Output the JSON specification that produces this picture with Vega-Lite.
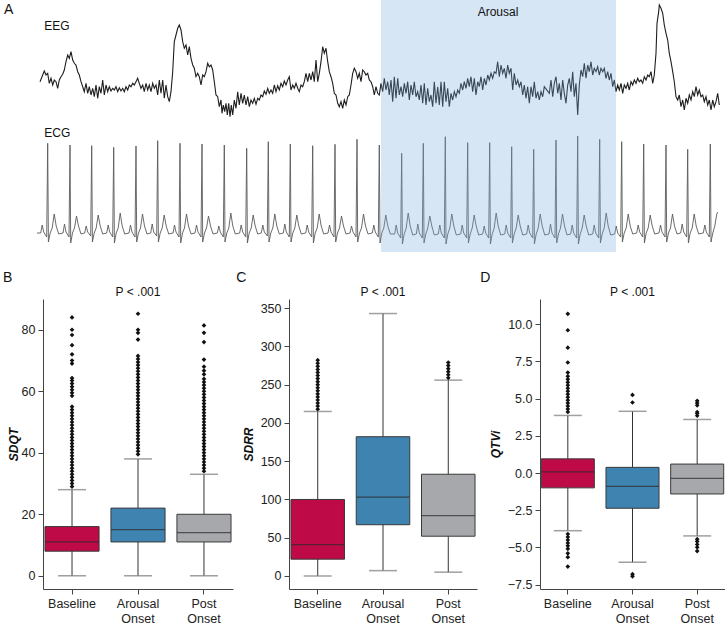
{
"$schema":"https://vega.github.io/schema/vega-lite/v6.json",
"padding":{"left":3,"top":0,"right":0,"bottom":0},
"config":{"view":{"stroke":null},"font":"Liberation Sans",
"axis":{"domainColor":"#444","tickColor":"#444","labelColor":"#222","labelFontSize":12.5,"tickSize":5,"labelPadding":3,"grid":false,"titleColor":"#111","labelFont":"Liberation Sans","titleFont":"Liberation Sans"},
"title":{"color":"#111","font":"Liberation Sans"}},
"datasets":{
"eeg":[
{"t":39.0,"amp":170.3},{"t":41.0,"amp":175.3},{"t":43.3,"amp":181.0},{"t":45.0,"amp":177.0},{"t":46.7,"amp":178.7},{"t":48.3,"amp":168.7},{"t":50.0,"amp":173.7},{"t":51.7,"amp":167.0},{"t":53.3,"amp":172.0},{"t":55.0,"amp":170.3},{"t":56.7,"amp":163.7},{"t":58.3,"amp":172.0},{"t":60.0,"amp":175.3},{"t":61.7,"amp":177.7},{"t":63.3,"amp":182.0},{"t":65.0,"amp":190.3},{"t":66.7,"amp":197.0},{"t":68.3,"amp":193.7},{"t":70.0,"amp":200.3},{"t":71.7,"amp":192.0},{"t":73.3,"amp":188.7},{"t":75.0,"amp":187.0},{"t":76.7,"amp":180.3},{"t":78.3,"amp":177.0},{"t":80.0,"amp":170.3},{"t":81.7,"amp":165.3},{"t":83.3,"amp":160.3},{"t":85.0,"amp":168.7},{"t":86.7,"amp":158.7},{"t":88.3,"amp":165.3},{"t":90.0,"amp":157.0},{"t":91.7,"amp":163.7},{"t":93.3,"amp":155.3},{"t":95.0,"amp":167.0},{"t":96.7,"amp":153.7},{"t":98.3,"amp":165.3},{"t":100.0,"amp":158.7},{"t":101.7,"amp":172.0},{"t":103.3,"amp":157.0},{"t":105.0,"amp":167.0},{"t":106.7,"amp":160.3},{"t":108.3,"amp":165.3},{"t":110.0,"amp":161.0},{"t":111.7,"amp":163.7},{"t":113.3,"amp":162.0},{"t":115.0,"amp":165.3},{"t":116.7,"amp":160.3},{"t":118.3,"amp":164.3},{"t":120.0,"amp":161.0},{"t":121.7,"amp":163.7},{"t":123.3,"amp":160.3},{"t":125.0,"amp":165.3},{"t":126.7,"amp":162.0},{"t":128.3,"amp":167.0},{"t":130.0,"amp":165.3},{"t":131.7,"amp":168.7},{"t":133.3,"amp":167.0},{"t":135.0,"amp":170.3},{"t":136.7,"amp":173.7},{"t":138.3,"amp":168.7},{"t":140.0,"amp":163.7},{"t":141.7,"amp":167.0},{"t":143.3,"amp":160.3},{"t":145.0,"amp":168.7},{"t":146.7,"amp":162.0},{"t":148.3,"amp":167.0},{"t":150.0,"amp":160.3},{"t":151.7,"amp":168.7},{"t":153.3,"amp":163.7},{"t":155.0,"amp":167.0},{"t":156.7,"amp":157.0},{"t":158.3,"amp":172.0},{"t":160.0,"amp":158.7},{"t":161.7,"amp":172.0},{"t":163.3,"amp":153.7},{"t":165.0,"amp":167.0},{"t":166.7,"amp":155.3},{"t":168.3,"amp":150.3},{"t":170.0,"amp":160.3},{"t":171.7,"amp":180.3},{"t":173.3,"amp":210.3},{"t":175.0,"amp":217.0},{"t":176.7,"amp":223.7},{"t":178.3,"amp":227.0},{"t":180.0,"amp":222.0},{"t":181.7,"amp":210.3},{"t":183.3,"amp":203.7},{"t":185.0,"amp":207.0},{"t":186.7,"amp":197.0},{"t":188.3,"amp":205.3},{"t":190.0,"amp":193.7},{"t":191.7,"amp":187.0},{"t":193.3,"amp":183.7},{"t":195.0,"amp":175.3},{"t":196.7,"amp":178.7},{"t":198.3,"amp":175.3},{"t":200.0,"amp":167.0},{"t":201.7,"amp":177.0},{"t":203.3,"amp":175.3},{"t":205.0,"amp":180.3},
{"t":206.7,"amp":188.7},{"t":208.3,"amp":185.3},{"t":210.0,"amp":187.0},{"t":211.7,"amp":182.0},{"t":213.3,"amp":170.3},{"t":215.0,"amp":157.0},{"t":216.7,"amp":155.3},{"t":218.3,"amp":145.3},{"t":220.0,"amp":152.0},{"t":221.0,"amp":138.7},{"t":222.3,"amp":147.0},{"t":223.7,"amp":140.3},{"t":225.0,"amp":148.7},{"t":226.3,"amp":137.0},{"t":227.7,"amp":148.7},{"t":229.0,"amp":135.3},{"t":230.3,"amp":147.0},{"t":231.7,"amp":137.0},{"t":233.3,"amp":152.0},{"t":235.0,"amp":143.7},{"t":236.7,"amp":160.3},{"t":238.3,"amp":147.0},{"t":240.0,"amp":158.7},{"t":241.7,"amp":148.7},{"t":243.3,"amp":157.0},{"t":245.0,"amp":147.0},{"t":246.7,"amp":155.3},{"t":248.3,"amp":145.3},{"t":250.0,"amp":152.0},{"t":251.7,"amp":148.7},{"t":253.3,"amp":153.7},{"t":255.0,"amp":147.7},{"t":256.7,"amp":153.7},{"t":258.3,"amp":152.0},{"t":260.0,"amp":157.0},{"t":261.7,"amp":155.3},{"t":263.3,"amp":161.0},{"t":265.0,"amp":157.7},{"t":266.7,"amp":163.7},{"t":268.3,"amp":158.7},{"t":270.0,"amp":162.0},{"t":271.7,"amp":158.7},{"t":273.3,"amp":167.0},{"t":275.0,"amp":160.3},{"t":276.7,"amp":166.3},{"t":278.3,"amp":162.0},{"t":280.0,"amp":168.7},{"t":281.7,"amp":165.3},{"t":283.3,"amp":171.0},{"t":285.0,"amp":167.0},{"t":286.7,"amp":172.0},{"t":288.3,"amp":175.3},{"t":290.0,"amp":162.0},{"t":291.7,"amp":167.0},{"t":293.3,"amp":163.7},{"t":295.0,"amp":168.7},{"t":296.7,"amp":163.7},{"t":298.3,"amp":160.3},{"t":300.0,"amp":167.0},{"t":301.7,"amp":165.3},{"t":303.3,"amp":170.3},{"t":305.0,"amp":178.7},{"t":306.7,"amp":170.3},{"t":308.3,"amp":178.7},{"t":310.0,"amp":172.0},{"t":311.7,"amp":180.3},{"t":313.3,"amp":170.3},{"t":315.0,"amp":192.0},{"t":316.7,"amp":170.3},{"t":318.3,"amp":178.7},{"t":320.0,"amp":190.3},{"t":321.7,"amp":205.3},{"t":323.3,"amp":198.7},{"t":325.0,"amp":203.7},{"t":326.7,"amp":190.3},{"t":328.3,"amp":180.3},{"t":330.0,"amp":175.3},{"t":331.7,"amp":168.7},{"t":333.3,"amp":158.7},{"t":335.0,"amp":157.0},{"t":336.7,"amp":148.7},{"t":338.3,"amp":145.3},{"t":340.0,"amp":150.3},{"t":341.7,"amp":143.7},{"t":343.3,"amp":152.0},{"t":345.0,"amp":147.0},{"t":346.7,"amp":155.3},{"t":348.3,"amp":157.0},{"t":350.0,"amp":167.0},{"t":351.7,"amp":178.7},{"t":353.3,"amp":183.7},{"t":355.0,"amp":180.3},{"t":356.7,"amp":173.7},{"t":358.3,"amp":178.7},{"t":360.0,"amp":170.3},{"t":361.7,"amp":182.0},{"t":363.3,"amp":180.3},{"t":365.0,"amp":177.0},{"t":366.7,"amp":178.7},{"t":368.3,"amp":172.0},{"t":370.0,"amp":170.3},{"t":371.7,"amp":165.3},{"t":373.3,"amp":157.0},{"t":375.0,"amp":165.3},{"t":376.7,"amp":158.7},
{"t":378.3,"amp":157.0},{"t":380.0,"amp":168.7},{"t":381.7,"amp":160.3},{"t":383.3,"amp":173.7},{"t":385.0,"amp":162.0},{"t":386.7,"amp":170.3},{"t":388.3,"amp":157.0},{"t":390.0,"amp":172.0},{"t":391.7,"amp":150.3},{"t":393.3,"amp":175.3},{"t":395.0,"amp":153.7},{"t":396.7,"amp":173.7},{"t":398.3,"amp":157.0},{"t":400.0,"amp":165.3},{"t":401.7,"amp":155.3},{"t":403.3,"amp":168.7},{"t":405.0,"amp":158.7},{"t":406.7,"amp":170.3},{"t":408.3,"amp":152.0},{"t":410.0,"amp":167.0},{"t":411.7,"amp":157.0},{"t":413.3,"amp":170.3},{"t":415.0,"amp":155.3},{"t":416.7,"amp":160.3},{"t":418.3,"amp":152.0},{"t":420.0,"amp":167.0},{"t":421.7,"amp":148.7},{"t":423.3,"amp":168.7},{"t":425.0,"amp":147.0},{"t":426.7,"amp":163.7},{"t":428.3,"amp":150.3},{"t":430.0,"amp":157.0},{"t":431.7,"amp":145.3},{"t":433.3,"amp":170.3},{"t":435.0,"amp":148.7},{"t":436.7,"amp":165.3},{"t":438.3,"amp":147.0},{"t":440.0,"amp":170.3},{"t":441.7,"amp":145.3},{"t":443.3,"amp":170.3},{"t":445.0,"amp":150.3},{"t":446.7,"amp":163.7},{"t":448.3,"amp":145.3},{"t":450.0,"amp":158.7},{"t":451.7,"amp":152.0},{"t":453.3,"amp":160.3},{"t":455.0,"amp":155.3},{"t":456.7,"amp":162.0},{"t":458.3,"amp":158.7},{"t":460.0,"amp":168.7},{"t":461.7,"amp":162.0},{"t":463.3,"amp":170.3},{"t":465.0,"amp":163.7},{"t":466.7,"amp":173.7},{"t":468.3,"amp":165.3},{"t":470.0,"amp":175.3},{"t":471.7,"amp":160.3},{"t":473.3,"amp":173.7},{"t":475.0,"amp":157.0},{"t":476.7,"amp":170.3},{"t":478.3,"amp":165.3},{"t":480.0,"amp":175.3},{"t":481.7,"amp":162.0},{"t":483.3,"amp":173.7},{"t":485.0,"amp":167.0},{"t":486.7,"amp":177.0},{"t":488.3,"amp":172.0},{"t":490.0,"amp":178.7},{"t":491.7,"amp":173.7},{"t":493.3,"amp":180.3},{"t":495.0,"amp":178.7},{"t":496.7,"amp":190.3},{"t":498.3,"amp":175.3},{"t":500.0,"amp":187.0},{"t":501.7,"amp":178.7},{"t":503.3,"amp":183.7},{"t":505.0,"amp":173.7},{"t":506.7,"amp":187.0},{"t":508.3,"amp":178.7},{"t":510.0,"amp":183.7},{"t":511.7,"amp":162.0},{"t":513.3,"amp":178.7},{"t":515.0,"amp":167.0},{"t":516.7,"amp":172.0},{"t":518.3,"amp":165.3},{"t":520.0,"amp":170.3},{"t":521.7,"amp":157.0},{"t":523.3,"amp":167.0},{"t":525.0,"amp":153.7},{"t":526.7,"amp":165.3},{"t":528.3,"amp":148.7},{"t":530.0,"amp":165.3},{"t":531.7,"amp":155.3},{"t":533.3,"amp":170.3},{"t":535.0,"amp":153.7},{"t":536.7,"amp":160.3},{"t":538.3,"amp":152.0},{"t":540.0,"amp":160.3},{"t":541.7,"amp":155.3},{"t":543.3,"amp":165.3},
{"t":548.3,"amp":158.7},{"t":550.0,"amp":172.0},{"t":551.7,"amp":155.3},{"t":553.3,"amp":168.7},{"t":555.0,"amp":175.3},{"t":556.7,"amp":158.7},{"t":558.3,"amp":168.7},{"t":560.0,"amp":152.0},{"t":561.7,"amp":172.0},{"t":563.3,"amp":158.7},{"t":565.0,"amp":148.7},{"t":566.7,"amp":167.0},{"t":568.3,"amp":173.7},{"t":570.0,"amp":160.3},{"t":571.7,"amp":180.3},{"t":573.3,"amp":155.3},{"t":575.0,"amp":168.7},{"t":576.7,"amp":137.0},{"t":578.3,"amp":167.0},{"t":580.0,"amp":182.0},{"t":581.7,"amp":175.3},{"t":583.3,"amp":188.7},{"t":585.0,"amp":173.7},{"t":586.7,"amp":187.0},{"t":588.3,"amp":180.3},{"t":590.0,"amp":190.3},{"t":591.7,"amp":177.0},{"t":593.3,"amp":183.7},{"t":595.0,"amp":180.3},{"t":596.7,"amp":185.3},{"t":598.3,"amp":177.0},{"t":600.0,"amp":183.7},{"t":601.7,"amp":180.3},{"t":603.3,"amp":183.7},{"t":605.0,"amp":173.7},{"t":606.7,"amp":180.3},{"t":608.3,"amp":172.0},{"t":610.0,"amp":178.7},{"t":611.7,"amp":165.3},{"t":613.3,"amp":172.0},{"t":615.0,"amp":160.3},{"t":616.7,"amp":167.0},{"t":618.3,"amp":162.0},{"t":620.0,"amp":168.7},{"t":621.7,"amp":158.7},{"t":623.3,"amp":167.0},{"t":625.0,"amp":163.7},{"t":626.7,"amp":168.7},{"t":628.3,"amp":162.0},{"t":630.0,"amp":170.3},{"t":631.7,"amp":167.0},{"t":633.3,"amp":172.0},{"t":635.0,"amp":168.7},{"t":636.7,"amp":173.7},{"t":638.3,"amp":170.3},{"t":640.0,"amp":172.0},{"t":641.7,"amp":168.7},{"t":643.3,"amp":175.3},{"t":645.0,"amp":172.0},{"t":646.7,"amp":177.0},{"t":648.3,"amp":175.3},{"t":650.0,"amp":180.3},{"t":651.7,"amp":168.7},{"t":653.3,"amp":177.0},{"t":655.0,"amp":198.7},{"t":656.0,"amp":228.7},{"t":657.7,"amp":240.3},{"t":658.3,"amp":247.0},{"t":660.0,"amp":243.7},{"t":661.7,"amp":238.7},{"t":663.3,"amp":227.0},{"t":665.0,"amp":218.7},{"t":666.7,"amp":212.0},{"t":668.3,"amp":198.7},{"t":670.0,"amp":190.3},{"t":671.7,"amp":180.3},{"t":673.3,"amp":170.3},{"t":675.0,"amp":155.3},{"t":676.7,"amp":152.0},{"t":678.3,"amp":157.0},{"t":680.0,"amp":145.3},{"t":681.7,"amp":152.0},{"t":683.3,"amp":142.0},{"t":685.0,"amp":153.7},{"t":686.7,"amp":148.7},{"t":688.3,"amp":157.0},{"t":690.0,"amp":152.0},{"t":691.7,"amp":160.3},{"t":693.3,"amp":155.3},{"t":695.0,"amp":165.3},{"t":696.7,"amp":157.0},{"t":698.3,"amp":162.0},{"t":700.0,"amp":155.3},{"t":701.7,"amp":157.0},{"t":703.3,"amp":150.3},{"t":705.0,"amp":155.3},{"t":706.7,"amp":147.0},{"t":708.3,"amp":152.0},{"t":710.0,"amp":142.0},{"t":711.7,"amp":152.0},{"t":713.3,"amp":145.3},{"t":715.0,"amp":150.3},{"t":716.7,"amp":158.7},{"t":718.3,"amp":147.0}
],
"ecg":[
{"t":36.0,"amp":19},
{"t":39.7,"amp":19},{"t":41.2,"amp":27},{"t":42.7,"amp":20},{"t":45.7,"amp":15},{"t":46.7,"amp":108.7},{"t":47.4,"amp":10},{"t":49.2,"amp":19},{"t":51.2,"amp":24},{"t":53.2,"amp":38},{"t":55.2,"amp":26},{"t":57.7,"amp":18},
{"t":62.0,"amp":19},{"t":63.5,"amp":28},{"t":65.0,"amp":20},{"t":68.0,"amp":15},{"t":69.0,"amp":107},{"t":69.7,"amp":9},{"t":71.5,"amp":19},{"t":73.5,"amp":24},{"t":75.5,"amp":36},{"t":77.5,"amp":26},{"t":80.0,"amp":18},
{"t":83.7,"amp":19},{"t":85.2,"amp":26},{"t":86.7,"amp":20},{"t":89.7,"amp":16},{"t":90.7,"amp":106.3},{"t":91.4,"amp":10},{"t":93.2,"amp":19},{"t":95.2,"amp":24},{"t":97.2,"amp":37},{"t":99.2,"amp":26},{"t":101.7,"amp":18},
{"t":105.7,"amp":19},{"t":107.2,"amp":27},{"t":108.7,"amp":20},{"t":111.7,"amp":15},{"t":112.7,"amp":104.7},{"t":113.4,"amp":9},{"t":115.2,"amp":19},{"t":117.2,"amp":24},{"t":119.2,"amp":39},{"t":121.2,"amp":26},{"t":123.7,"amp":18},
{"t":128.0,"amp":19},{"t":129.5,"amp":27},{"t":131.0,"amp":20},{"t":134.0,"amp":15},{"t":135.0,"amp":106},{"t":135.7,"amp":10},{"t":137.5,"amp":19},{"t":139.5,"amp":24},{"t":141.5,"amp":38},{"t":143.5,"amp":26},{"t":146.0,"amp":18},
{"t":149.7,"amp":19},{"t":151.2,"amp":28},{"t":152.7,"amp":20},{"t":155.7,"amp":16},{"t":156.7,"amp":111.3},{"t":157.4,"amp":10},{"t":159.2,"amp":19},{"t":161.2,"amp":24},{"t":163.2,"amp":37},{"t":165.2,"amp":26},{"t":167.7,"amp":18},
{"t":172.0,"amp":19},{"t":173.5,"amp":27},{"t":175.0,"amp":20},{"t":178.0,"amp":15},{"t":179.0,"amp":108.7},{"t":179.7,"amp":9},{"t":181.5,"amp":19},{"t":183.5,"amp":24},{"t":185.5,"amp":38},{"t":187.5,"amp":26},{"t":190.0,"amp":18},
{"t":194.0,"amp":19},{"t":195.5,"amp":27},{"t":197.0,"amp":20},{"t":200.0,"amp":15},{"t":201.0,"amp":108},{"t":201.7,"amp":10},{"t":203.5,"amp":19},{"t":205.5,"amp":24},{"t":207.5,"amp":36},{"t":209.5,"amp":26},{"t":212.0,"amp":18},
{"t":216.3,"amp":19},{"t":217.8,"amp":26},{"t":219.3,"amp":20},{"t":222.3,"amp":15},{"t":223.3,"amp":107},{"t":224.0,"amp":10},{"t":225.8,"amp":19},{"t":227.8,"amp":24},{"t":229.8,"amp":39},{"t":231.8,"amp":26},{"t":234.3,"amp":18},
{"t":238.7,"amp":19},{"t":240.2,"amp":27},{"t":241.7,"amp":20},{"t":244.7,"amp":15},{"t":245.7,"amp":103.7},{"t":246.4,"amp":9},{"t":248.2,"amp":19},{"t":250.2,"amp":24},{"t":252.2,"amp":37},{"t":254.2,"amp":26},{"t":256.7,"amp":18},
{"t":260.3,"amp":19},{"t":261.8,"amp":27},{"t":263.3,"amp":20},{"t":266.3,"amp":16},{"t":267.3,"amp":110.3},{"t":268.0,"amp":10},{"t":269.8,"amp":19},{"t":271.8,"amp":24},{"t":273.8,"amp":38},{"t":275.8,"amp":26},{"t":278.3,"amp":18},
{"t":282.3,"amp":19},{"t":283.8,"amp":28},{"t":285.3,"amp":20},{"t":288.3,"amp":15},{"t":289.3,"amp":108},{"t":290.0,"amp":10},{"t":291.8,"amp":19},{"t":293.8,"amp":24},{"t":295.8,"amp":37},{"t":297.8,"amp":26},{"t":300.3,"amp":18},
{"t":304.7,"amp":19},{"t":306.2,"amp":27},{"t":307.7,"amp":20},{"t":310.7,"amp":15},{"t":311.7,"amp":106.3},{"t":312.4,"amp":9},{"t":314.2,"amp":19},{"t":316.2,"amp":24},{"t":318.2,"amp":38},{"t":320.2,"amp":26},{"t":322.7,"amp":18},
{"t":327.0,"amp":19},{"t":328.5,"amp":27},{"t":330.0,"amp":20},{"t":333.0,"amp":15},{"t":334.0,"amp":107.7},{"t":334.7,"amp":10},{"t":336.5,"amp":19},{"t":338.5,"amp":24},{"t":340.5,"amp":36},{"t":342.5,"amp":26},{"t":345.0,"amp":18},
{"t":349.0,"amp":19},{"t":350.5,"amp":26},{"t":352.0,"amp":20},{"t":355.0,"amp":15},{"t":356.0,"amp":112.7},{"t":356.7,"amp":10},{"t":358.5,"amp":19},{"t":360.5,"amp":24},{"t":362.5,"amp":38},{"t":364.5,"amp":26},{"t":367.0,"amp":18},
{"t":371.3,"amp":19},{"t":372.8,"amp":27},{"t":374.3,"amp":20},{"t":377.3,"amp":15},{"t":378.3,"amp":107},{"t":379.0,"amp":9},{"t":380.8,"amp":19},{"t":382.8,"amp":24},{"t":384.8,"amp":37},{"t":386.8,"amp":26},{"t":389.3,"amp":18},
{"t":393.7,"amp":18},{"t":395.2,"amp":27},{"t":396.7,"amp":19},{"t":399.7,"amp":14},{"t":400.7,"amp":98.7},{"t":401.4,"amp":8},{"t":403.2,"amp":18},{"t":405.2,"amp":24},{"t":407.2,"amp":39},{"t":409.2,"amp":26},{"t":411.7,"amp":17},
{"t":415.3,"amp":18},{"t":416.8,"amp":28},{"t":418.3,"amp":19},{"t":421.3,"amp":14},{"t":422.3,"amp":108.7},{"t":423.0,"amp":9},{"t":424.8,"amp":18},{"t":426.8,"amp":24},{"t":428.8,"amp":36},{"t":430.8,"amp":26},{"t":433.3,"amp":17},
{"t":437.3,"amp":18},{"t":438.8,"amp":27},{"t":440.3,"amp":19},{"t":443.3,"amp":14},{"t":444.3,"amp":115.3},{"t":445.0,"amp":8},{"t":446.8,"amp":18},{"t":448.8,"amp":24},{"t":450.8,"amp":38},{"t":452.8,"amp":26},{"t":455.3,"amp":17},
{"t":459.7,"amp":18},{"t":461.2,"amp":27},{"t":462.7,"amp":19},{"t":465.7,"amp":14},{"t":466.7,"amp":109.3},{"t":467.4,"amp":9},{"t":469.2,"amp":18},{"t":471.2,"amp":24},{"t":473.2,"amp":37},{"t":475.2,"amp":26},{"t":477.7,"amp":17},
{"t":481.7,"amp":18},{"t":483.2,"amp":26},{"t":484.7,"amp":19},{"t":487.7,"amp":14},{"t":488.7,"amp":109.3},{"t":489.4,"amp":8},{"t":491.2,"amp":18},{"t":493.2,"amp":24},{"t":495.2,"amp":39},{"t":497.2,"amp":26},{"t":499.7,"amp":17},
{"t":503.7,"amp":18},{"t":505.2,"amp":27},{"t":506.7,"amp":19},{"t":509.7,"amp":14},{"t":510.7,"amp":105.3},{"t":511.4,"amp":9},{"t":513.2,"amp":18},{"t":515.2,"amp":24},{"t":517.2,"amp":37},{"t":519.2,"amp":26},{"t":521.7,"amp":17},
{"t":525.7,"amp":18},{"t":527.2,"amp":27},{"t":528.7,"amp":19},{"t":531.7,"amp":14},{"t":532.7,"amp":102.7},{"t":533.4,"amp":8},{"t":535.2,"amp":18},{"t":537.2,"amp":24},{"t":539.2,"amp":38},{"t":541.2,"amp":26},{"t":543.7,"amp":17},
{"t":548.0,"amp":18},{"t":549.5,"amp":28},{"t":551.0,"amp":19},{"t":554.0,"amp":14},{"t":555.0,"amp":112},{"t":555.7,"amp":9},{"t":557.5,"amp":18},{"t":559.5,"amp":24},{"t":561.5,"amp":38},{"t":563.5,"amp":26},{"t":566.0,"amp":17},
{"t":569.7,"amp":18},{"t":571.2,"amp":27},{"t":572.7,"amp":19},{"t":575.7,"amp":14},{"t":576.7,"amp":116},{"t":577.4,"amp":8},{"t":579.2,"amp":18},{"t":581.2,"amp":24},{"t":583.2,"amp":37},{"t":585.2,"amp":26},{"t":587.7,"amp":17},
{"t":591.7,"amp":18},{"t":593.2,"amp":27},{"t":594.7,"amp":19},{"t":597.7,"amp":14},{"t":598.7,"amp":112.7},{"t":599.4,"amp":9},{"t":601.2,"amp":18},{"t":603.2,"amp":24},{"t":605.2,"amp":39},{"t":607.2,"amp":26},{"t":609.7,"amp":17},
{"t":613.7,"amp":18},{"t":615.2,"amp":26},{"t":616.7,"amp":19},{"t":619.7,"amp":15},{"t":620.7,"amp":110.3},{"t":621.4,"amp":10},{"t":623.2,"amp":19},{"t":625.2,"amp":24},{"t":627.2,"amp":38},{"t":629.2,"amp":26},{"t":631.7,"amp":18},
{"t":635.7,"amp":19},{"t":637.2,"amp":27},{"t":638.7,"amp":20},{"t":641.7,"amp":15},{"t":642.7,"amp":108},{"t":643.4,"amp":9},{"t":645.2,"amp":19},{"t":647.2,"amp":24},{"t":649.2,"amp":37},{"t":651.2,"amp":26},{"t":653.7,"amp":18},
{"t":658.0,"amp":19},{"t":659.5,"amp":27},{"t":661.0,"amp":20},{"t":664.0,"amp":15},{"t":665.0,"amp":107},{"t":665.7,"amp":10},{"t":667.5,"amp":19},{"t":669.5,"amp":24},{"t":671.5,"amp":38},{"t":673.5,"amp":26},{"t":676.0,"amp":18},
{"t":679.7,"amp":19},{"t":681.2,"amp":28},{"t":682.7,"amp":20},{"t":685.7,"amp":15},{"t":686.7,"amp":102.7},{"t":687.4,"amp":9},{"t":689.2,"amp":19},{"t":691.2,"amp":24},{"t":693.2,"amp":38},{"t":695.2,"amp":26},{"t":697.7,"amp":18},
{"t":702.3,"amp":19},{"t":703.8,"amp":27},{"t":705.3,"amp":20},{"t":708.3,"amp":15},{"t":709.3,"amp":108},{"t":710.0,"amp":10},{"t":711.8,"amp":19},{"t":713.8,"amp":26},{"t":715.8,"amp":38},{"t":716.7,"amp":40}
]
},
"spacing":19,
"vconcat":[
{
"width":683,"height":252,
"layer":[
{"data":{"name":"eeg"},"mark":{"type":"line","color":"#1e1e1e","strokeWidth":1.1,"interpolate":"linear"},
"encoding":{"x":{"field":"t","type":"quantitative","scale":{"domain":[42,725],"nice":false,"zero":false},"axis":null},"y":{"field":"amp","type":"quantitative","scale":{"domain":[0,252],"nice":false,"zero":false},"axis":null}}},
{"data":{"name":"ecg"},"mark":{"type":"line","color":"#5a5a5a","strokeWidth":0.9},
"encoding":{"x":{"field":"t","type":"quantitative"},"y":{"field":"amp","type":"quantitative"}}},
{"data":{"values":[{"start":380,"end":615}]},"mark":{"type":"rect","color":"#76ACDE","opacity":0.3},
"encoding":{"x":{"field":"start","type":"quantitative"},"x2":{"field":"end"}}},
{"data":{"values":[{"t":3,"amp":249,"label":"A"}]},"mark":{"type":"text","align":"left","baseline":"top","fontSize":14,"color":"#111"},
"encoding":{"x":{"field":"t","type":"quantitative"},"y":{"field":"amp","type":"quantitative"},"text":{"field":"label"}}},
{"data":{"values":[{"t":43.3,"amp":231.3,"label":"EEG"},{"t":43.3,"amp":123.7,"label":"ECG"},{"t":476.7,"amp":244.7,"label":"Arousal"}]},"mark":{"type":"text","align":"left","baseline":"top","fontSize":12,"color":"#111"},
"encoding":{"x":{"field":"t","type":"quantitative"},"y":{"field":"amp","type":"quantitative"},"text":{"field":"label"}}}
]
},
{
"spacing":3,
"hconcat":[
{"title":{"text":"B","anchor":"start","dx":-4,"fontSize":14,"fontWeight":"normal","offset":1},
"hconcat":[{
"width":190,"height":290,
"title":{"text":"P < .001","fontSize":12,"fontWeight":"normal","offset":0},
"data":{"values":[
{"group":"Baseline","lower":0,"q1":8,"median":11,"q3":16,"upper":28},
{"group":"Arousal Onset","lower":0,"q1":11,"median":15,"q3":22,"upper":38},
{"group":"Post Onset","lower":0,"q1":11,"median":14,"q3":20,"upper":33}]},
"encoding":{"x":{"field":"group","type":"nominal","sort":null,"scale":{"domain":["Baseline","Arousal Onset","Post Onset"],"paddingInner":0.18,"paddingOuter":0.03},"axis":{"title":null,"labelAngle":0,"labelExpr":"split(datum.label, ' ')","labelLineHeight":15,"labelFontSize":12.5}}},
"layer":[
{"mark":{"type":"rule","color":"#333","strokeWidth":1},"encoding":{"y":{"field":"lower","type":"quantitative","scale":{"domain":[-4.3,90],"nice":false,"zero":false},"axis":{"values":[0,20,40,60,80],"title":"SDQT","titleFontWeight":"bold","titleFontStyle":"italic","titleFontSize":12,"titlePadding":1}},"y2":{"field":"upper"}}},
{"mark":{"type":"bar","stroke":"#3a3a3a","strokeWidth":1},"encoding":{"y":{"field":"q1","type":"quantitative","title":"SDQT"},"y2":{"field":"q3"},"color":{"field":"group","type":"nominal","scale":{"domain":["Baseline","Arousal Onset","Post Onset"],"range":["#BE0A47","#3F83B1","#A6A8AB"]},"legend":null}}},
{"mark":{"type":"tick","color":"#2a2a2a","thickness":1.3,"size":54},"encoding":{"y":{"field":"median","type":"quantitative","title":"SDQT"}}},
{"mark":{"type":"tick","color":"#777","thickness":1.5,"size":28},"encoding":{"y":{"field":"lower","type":"quantitative","title":"SDQT"}}},
{"mark":{"type":"tick","color":"#777","thickness":1.5,"size":28},"encoding":{"y":{"field":"upper","type":"quantitative","title":"SDQT"}}},
{"data":{"values":[
{"group":"Baseline","value":29},{"group":"Baseline","value":30},{"group":"Baseline","value":31},{"group":"Baseline","value":32},{"group":"Baseline","value":33},{"group":"Baseline","value":34},{"group":"Baseline","value":35},{"group":"Baseline","value":36},{"group":"Baseline","value":37},{"group":"Baseline","value":38},{"group":"Baseline","value":39},{"group":"Baseline","value":40},{"group":"Baseline","value":41},{"group":"Baseline","value":42},{"group":"Baseline","value":43},{"group":"Baseline","value":44},{"group":"Baseline","value":45},{"group":"Baseline","value":46},{"group":"Baseline","value":47},{"group":"Baseline","value":48},{"group":"Baseline","value":49},{"group":"Baseline","value":50},{"group":"Baseline","value":51},{"group":"Baseline","value":52},{"group":"Baseline","value":53},{"group":"Baseline","value":54},{"group":"Baseline","value":55},{"group":"Baseline","value":58.5},{"group":"Baseline","value":59.5},{"group":"Baseline","value":60.5},{"group":"Baseline","value":61.5},{"group":"Baseline","value":62.5},{"group":"Baseline","value":63.5},{"group":"Baseline","value":64.3},{"group":"Baseline","value":69},{"group":"Baseline","value":70},{"group":"Baseline","value":72},{"group":"Baseline","value":75},{"group":"Baseline","value":78.3},{"group":"Baseline","value":80},{"group":"Baseline","value":84},
{"group":"Arousal Onset","value":39.5},{"group":"Arousal Onset","value":40.5},{"group":"Arousal Onset","value":41.5},{"group":"Arousal Onset","value":42.5},{"group":"Arousal Onset","value":43.5},{"group":"Arousal Onset","value":44.5},{"group":"Arousal Onset","value":45.5},{"group":"Arousal Onset","value":46.5},{"group":"Arousal Onset","value":47.5},{"group":"Arousal Onset","value":48.5},{"group":"Arousal Onset","value":49.5},{"group":"Arousal Onset","value":50.5},{"group":"Arousal Onset","value":51.5},{"group":"Arousal Onset","value":52.5},{"group":"Arousal Onset","value":53.5},{"group":"Arousal Onset","value":54.5},{"group":"Arousal Onset","value":55.5},{"group":"Arousal Onset","value":56.5},{"group":"Arousal Onset","value":57.5},{"group":"Arousal Onset","value":58.5},{"group":"Arousal Onset","value":59.5},{"group":"Arousal Onset","value":60.5},{"group":"Arousal Onset","value":61.5},{"group":"Arousal Onset","value":62.5},{"group":"Arousal Onset","value":63.5},{"group":"Arousal Onset","value":64.5},{"group":"Arousal Onset","value":65.5},{"group":"Arousal Onset","value":66.5},{"group":"Arousal Onset","value":67.5},{"group":"Arousal Onset","value":68.5},{"group":"Arousal Onset","value":69.5},{"group":"Arousal Onset","value":70.5},{"group":"Arousal Onset","value":71.5},{"group":"Arousal Onset","value":76.8},{"group":"Arousal Onset","value":79},{"group":"Arousal Onset","value":80},{"group":"Arousal Onset","value":85.2},
{"group":"Post Onset","value":34},{"group":"Post Onset","value":35},{"group":"Post Onset","value":36},{"group":"Post Onset","value":37},{"group":"Post Onset","value":38},{"group":"Post Onset","value":39},{"group":"Post Onset","value":40},{"group":"Post Onset","value":41},{"group":"Post Onset","value":42},{"group":"Post Onset","value":43},{"group":"Post Onset","value":44},{"group":"Post Onset","value":45},{"group":"Post Onset","value":46},{"group":"Post Onset","value":47},{"group":"Post Onset","value":48},{"group":"Post Onset","value":49},{"group":"Post Onset","value":50},{"group":"Post Onset","value":51},{"group":"Post Onset","value":52},{"group":"Post Onset","value":53},{"group":"Post Onset","value":54},{"group":"Post Onset","value":55},{"group":"Post Onset","value":56},{"group":"Post Onset","value":57},{"group":"Post Onset","value":58},{"group":"Post Onset","value":59},{"group":"Post Onset","value":60},{"group":"Post Onset","value":61},{"group":"Post Onset","value":62},{"group":"Post Onset","value":63},{"group":"Post Onset","value":64},{"group":"Post Onset","value":65.5},{"group":"Post Onset","value":66.7},{"group":"Post Onset","value":68},{"group":"Post Onset","value":70.3},{"group":"Post Onset","value":76},{"group":"Post Onset","value":79},{"group":"Post Onset","value":81.4}]},
"mark":{"type":"point","shape":"diamond","filled":true,"size":22,"color":"#111","opacity":1},"encoding":{"y":{"field":"value","type":"quantitative","title":"SDQT"}}}
]}]},
{"title":{"text":"C","anchor":"start","dx":-6,"fontSize":14,"fontWeight":"normal","offset":1},
"hconcat":[{
"width":188,"height":290,
"title":{"text":"P < .001","fontSize":12,"fontWeight":"normal","offset":0},
"data":{"values":[
{"group":"Baseline","lower":0,"q1":22,"median":41,"q3":100,"upper":215},
{"group":"Arousal Onset","lower":7,"q1":67,"median":103,"q3":182,"upper":343},
{"group":"Post Onset","lower":5,"q1":52,"median":79,"q3":133,"upper":256}]},
"encoding":{"x":{"field":"group","type":"nominal","sort":null,"scale":{"domain":["Baseline","Arousal Onset","Post Onset"],"paddingInner":0.18,"paddingOuter":0.03},"axis":{"title":null,"labelAngle":0,"labelExpr":"split(datum.label, ' ')","labelLineHeight":15,"labelFontSize":12.5}}},
"layer":[
{"mark":{"type":"rule","color":"#333","strokeWidth":1},"encoding":{"y":{"field":"lower","type":"quantitative","scale":{"domain":[-17,362],"nice":false,"zero":false},"axis":{"values":[0,50,100,150,200,250,300,350],"title":"SDRR","titleFontWeight":"bold","titleFontStyle":"italic","titleFontSize":12,"titlePadding":5}},"y2":{"field":"upper"}}},
{"mark":{"type":"bar","stroke":"#3a3a3a","strokeWidth":1},"encoding":{"y":{"field":"q1","type":"quantitative","title":"SDRR"},"y2":{"field":"q3"},"color":{"field":"group","type":"nominal","scale":{"domain":["Baseline","Arousal Onset","Post Onset"],"range":["#BE0A47","#3F83B1","#A6A8AB"]},"legend":null}}},
{"mark":{"type":"tick","color":"#2a2a2a","thickness":1.3,"size":53},"encoding":{"y":{"field":"median","type":"quantitative","title":"SDRR"}}},
{"mark":{"type":"tick","color":"#777","thickness":1.5,"size":28},"encoding":{"y":{"field":"lower","type":"quantitative","title":"SDRR"}}},
{"mark":{"type":"tick","color":"#777","thickness":1.5,"size":28},"encoding":{"y":{"field":"upper","type":"quantitative","title":"SDRR"}}},
{"data":{"values":[
{"group":"Baseline","value":218},{"group":"Baseline","value":222},{"group":"Baseline","value":226},{"group":"Baseline","value":230},{"group":"Baseline","value":234},{"group":"Baseline","value":238},{"group":"Baseline","value":242},{"group":"Baseline","value":246},{"group":"Baseline","value":250},{"group":"Baseline","value":254},{"group":"Baseline","value":258},{"group":"Baseline","value":262},{"group":"Baseline","value":266},{"group":"Baseline","value":270},{"group":"Baseline","value":274},{"group":"Baseline","value":278},{"group":"Baseline","value":282},
{"group":"Post Onset","value":259},{"group":"Post Onset","value":263},{"group":"Post Onset","value":267},{"group":"Post Onset","value":271},{"group":"Post Onset","value":275},{"group":"Post Onset","value":279}]},
"mark":{"type":"point","shape":"diamond","filled":true,"size":22,"color":"#111","opacity":1},"encoding":{"y":{"field":"value","type":"quantitative","title":"SDRR"}}}
]}]},
{"title":{"text":"D","anchor":"start","dx":-9,"fontSize":14,"fontWeight":"normal","offset":1},
"hconcat":[{
"width":185,"height":290,
"title":{"text":"P < .001","fontSize":12,"fontWeight":"normal","offset":0},
"data":{"values":[
{"group":"Baseline","lower":-3.88,"q1":-1.0,"median":0.07,"q3":0.95,"upper":3.87},
{"group":"Arousal Onset","lower":-6.0,"q1":-2.37,"median":-0.9,"q3":0.38,"upper":4.15},
{"group":"Post Onset","lower":-4.23,"q1":-1.41,"median":-0.36,"q3":0.6,"upper":3.6}]},
"encoding":{"x":{"field":"group","type":"nominal","sort":null,"scale":{"domain":["Baseline","Arousal Onset","Post Onset"],"paddingInner":0.18,"paddingOuter":0.02},"axis":{"title":null,"labelAngle":0,"labelExpr":"split(datum.label, ' ')","labelLineHeight":15,"labelFontSize":12.5}}},
"layer":[
{"mark":{"type":"rule","color":"#333","strokeWidth":1},"encoding":{"y":{"field":"lower","type":"quantitative","scale":{"domain":[-7.8,11.7],"nice":false,"zero":false},"axis":{"values":[-7.5,-5,-2.5,0,2.5,5,7.5,10],"format":".1f","title":"QTVi","titleFontWeight":"bold","titleFontStyle":"italic","titleFontSize":12,"titlePadding":5}},"y2":{"field":"upper"}}},
{"mark":{"type":"bar","stroke":"#3a3a3a","strokeWidth":1},"encoding":{"y":{"field":"q1","type":"quantitative","title":"QTVi"},"y2":{"field":"q3"},"color":{"field":"group","type":"nominal","scale":{"domain":["Baseline","Arousal Onset","Post Onset"],"range":["#BE0A47","#3F83B1","#A6A8AB"]},"legend":null}}},
{"mark":{"type":"tick","color":"#2a2a2a","thickness":1.3,"size":53},"encoding":{"y":{"field":"median","type":"quantitative","title":"QTVi"}}},
{"mark":{"type":"tick","color":"#777","thickness":1.5,"size":28},"encoding":{"y":{"field":"lower","type":"quantitative","title":"QTVi"}}},
{"mark":{"type":"tick","color":"#777","thickness":1.5,"size":28},"encoding":{"y":{"field":"upper","type":"quantitative","title":"QTVi"}}},
{"data":{"values":[
{"group":"Baseline","value":4.1},{"group":"Baseline","value":4.3},{"group":"Baseline","value":4.5},{"group":"Baseline","value":4.7},{"group":"Baseline","value":4.9},{"group":"Baseline","value":5.1},{"group":"Baseline","value":5.3},{"group":"Baseline","value":5.5},{"group":"Baseline","value":5.7},{"group":"Baseline","value":5.9},{"group":"Baseline","value":6.1},{"group":"Baseline","value":6.3},{"group":"Baseline","value":6.5},{"group":"Baseline","value":6.75},{"group":"Baseline","value":7.43},{"group":"Baseline","value":8.43},{"group":"Baseline","value":9.6},{"group":"Baseline","value":10.7},{"group":"Baseline","value":-4.1},{"group":"Baseline","value":-4.3},{"group":"Baseline","value":-4.5},{"group":"Baseline","value":-4.7},{"group":"Baseline","value":-4.9},{"group":"Baseline","value":-5.1},{"group":"Baseline","value":-5.4},{"group":"Baseline","value":-5.66},{"group":"Baseline","value":-6.29},
{"group":"Arousal Onset","value":4.74},{"group":"Arousal Onset","value":5.25},{"group":"Arousal Onset","value":-6.8},{"group":"Arousal Onset","value":-6.95},
{"group":"Post Onset","value":3.85},{"group":"Post Onset","value":4.0},{"group":"Post Onset","value":4.1},{"group":"Post Onset","value":4.55},{"group":"Post Onset","value":4.7},{"group":"Post Onset","value":4.85},{"group":"Post Onset","value":-4.45},{"group":"Post Onset","value":-4.6},{"group":"Post Onset","value":-4.8},{"group":"Post Onset","value":-5.0},{"group":"Post Onset","value":-5.25}]},
"mark":{"type":"point","shape":"diamond","filled":true,"size":22,"color":"#111","opacity":1},"encoding":{"y":{"field":"value","type":"quantitative","title":"QTVi"}}}
]}]}
]
}
]
}
